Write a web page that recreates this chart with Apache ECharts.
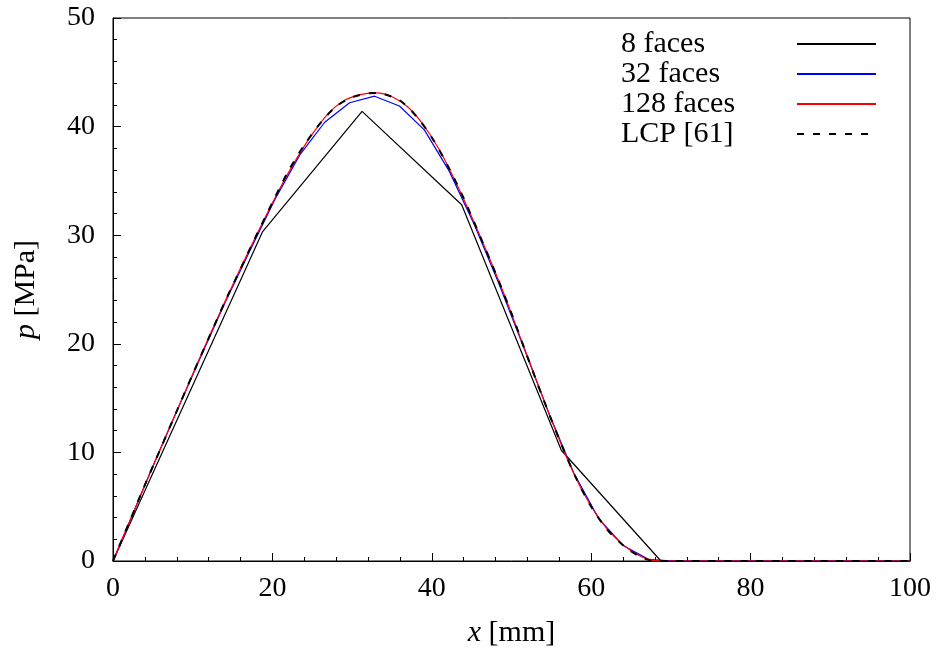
<!DOCTYPE html>
<html>
<head>
<meta charset="utf-8">
<script src="https://cdn.jsdelivr.net/npm/echarts@6/dist/echarts.min.js"></script>
<style>
html,body{margin:0;padding:0;background:#fff;}
#chart{width:936px;height:653px;}
</style>
</head>
<body>
<div id="chart"></div>
<script>
// ---- data ----
var seriesNames = ['8 faces', '32 faces', '128 faces', 'LCP [61]'];

var faces8X = [0, 6.25, 18.75, 31.25, 43.75, 56.25, 68.75, 81.25, 93.75, 100];
var faces8P = [0, 10.1, 30.3, 41.4, 32.8, 10.2, 0, 0, 0, 0];

var faces32X = [0, 1.5625, 4.6875, 7.8125, 10.9375, 14.0625, 17.1875, 20.3125, 23.4375,
  26.5625, 29.6875, 32.8125, 35.9375, 39.0625, 42.1875, 45.3125, 48.4375, 51.5625,
  54.6875, 57.8125, 60.9375, 64.0625, 67.1875, 70.3125, 73.4375, 76.5625, 79.6875,
  82.8125, 85.9375, 89.0625, 92.1875, 95.3125, 98.4375, 100];
var faces32P = [0, 2.7, 8.2, 13.5, 18.7, 23.8, 28.6, 33.3, 37.4,
  40.4, 42.2, 42.8, 41.9, 39.7, 35.9, 31.0, 25.5, 19.6,
  13.6, 8.1, 3.9, 1.4, 0.15, 0, 0, 0, 0,
  0, 0, 0, 0, 0, 0, 0];

var faces128X = [0, 1, 3, 5, 7, 9, 11, 13, 15, 17, 19, 21, 23, 25, 27, 29, 31, 33, 35,
  37, 39, 41, 43, 45, 47, 49, 51, 53, 55, 57, 59, 61, 63, 65, 67, 69, 80, 90, 100];
var faces128P = [0, 1.75, 5.25, 8.7, 12.1, 15.5, 18.9, 22.2, 25.4, 28.5, 31.5, 34.4, 37.0,
  39.3, 41.2, 42.4, 42.95, 43.1, 42.75, 41.8, 40.1, 37.8, 34.9, 31.7, 28.3, 24.7, 20.8,
  16.9, 13.0, 9.4, 6.3, 3.9, 2.15, 0.95, 0.2, 0, 0, 0, 0];

var lcpX = [0, 2, 4, 6, 8, 10, 12, 14, 16, 18, 20, 22, 24, 26, 28, 30, 32, 33, 34, 36,
  38, 40, 42, 44, 46, 48, 50, 52, 54, 56, 58, 60, 62, 64, 66, 68, 70, 80, 90, 100];
var lcpP = [0, 3.5, 7.0, 10.4, 13.8, 17.2, 20.5, 23.8, 26.9, 30.0, 33.0, 35.9, 38.3, 40.3,
  41.85, 42.7, 43.05, 43.1, 43.0, 42.4, 41.0, 39.0, 36.4, 33.4, 30.0, 26.5, 22.8, 18.8,
  14.9, 11.2, 7.8, 5.0, 2.9, 1.45, 0.45, 0, 0, 0, 0, 0];

var xTicks = [0, 20, 40, 60, 80, 100];
var yTicks = [0, 10, 20, 30, 40, 50];

function pairs(xs, ys) {
  return xs.map(function (x, i) { return [x, ys[i]]; });
}

var FONT = 'Liberation Serif';

var chart = echarts.init(document.getElementById('chart'), null, {renderer: 'canvas'});

var axisCommon = {
  axisLine: {show: true, onZero: false, lineStyle: {color: '#000', width: 1}},
  axisTick: {show: true, inside: true, length: 8, lineStyle: {color: '#000', width: 1}},
  minorTick: {show: true, splitNumber: 5, length: 4, lineStyle: {color: '#000', width: 1}},
  splitLine: {show: false},
  minorSplitLine: {show: false}
};

chart.setOption({
  animation: false,
  backgroundColor: '#fff',
  textStyle: {fontFamily: FONT},
  grid: {
    left: 113, right: 26, top: 18, bottom: 91,
    show: true, borderColor: '#000', borderWidth: 1, backgroundColor: 'transparent'
  },
  xAxis: Object.assign({
    type: 'value',
    min: xTicks[0], max: xTicks[xTicks.length - 1], interval: xTicks[1] - xTicks[0],
    name: '{i|x} [mm]',
    nameLocation: 'middle',
    nameGap: 57,
    nameTextStyle: {
      fontFamily: FONT, fontSize: 30, color: '#000',
      rich: {i: {fontFamily: FONT, fontStyle: 'italic', fontSize: 30, color: '#000'}}
    },
    axisLabel: {fontFamily: FONT, fontSize: 28, color: '#000', margin: 14}
  }, axisCommon),
  yAxis: Object.assign({
    type: 'value',
    min: yTicks[0], max: yTicks[yTicks.length - 1], interval: yTicks[1] - yTicks[0],
    name: '{i|p} [MPa]',
    nameLocation: 'middle',
    nameRotate: 90,
    nameGap: 72,
    nameTextStyle: {
      fontFamily: FONT, fontSize: 30, color: '#000',
      rich: {i: {fontFamily: FONT, fontStyle: 'italic', fontSize: 30, color: '#000'}}
    },
    axisLabel: {fontFamily: FONT, fontSize: 28, color: '#000', margin: 18}
  }, axisCommon),
  legend: {
    orient: 'vertical',
    left: 621,
    top: 29,
    padding: 0,
    align: 'right',
    itemWidth: 79,
    itemHeight: 14,
    itemGap: 0,
    data: seriesNames,
    itemStyle: {opacity: 0, borderWidth: 0},
    formatter: function (n) { return '{t|' + n + '}'; },
    textStyle: {
      fontFamily: FONT, fontSize: 30, color: '#000',
      rich: {t: {fontFamily: FONT, fontSize: 30, color: '#000', width: 171, align: 'left', lineHeight: 29}}
    }
  },
  series: [
    {
      name: seriesNames[0], type: 'line', data: pairs(faces8X, faces8P),
      symbol: 'none', showSymbol: false, z: 2,
      lineStyle: {color: '#000', width: 1.2}, itemStyle: {color: '#000'}
    },
    {
      name: seriesNames[1], type: 'line', data: pairs(faces32X, faces32P),
      symbol: 'none', showSymbol: false, z: 3,
      lineStyle: {color: '#0000ff', width: 1.2}, itemStyle: {color: '#0000ff'}
    },
    {
      name: seriesNames[2], type: 'line', data: pairs(faces128X, faces128P),
      symbol: 'none', showSymbol: false, smooth: 0.3, z: 4,
      lineStyle: {color: '#ff0000', width: 1.2}, itemStyle: {color: '#ff0000'}
    },
    {
      name: seriesNames[3], type: 'line', data: pairs(lcpX, lcpP),
      symbol: 'none', showSymbol: false, smooth: 0.3, z: 5,
      lineStyle: {color: '#000', width: 2, type: [7, 9]}, itemStyle: {color: '#000'}
    }
  ]
});
</script>
</body>
</html>
